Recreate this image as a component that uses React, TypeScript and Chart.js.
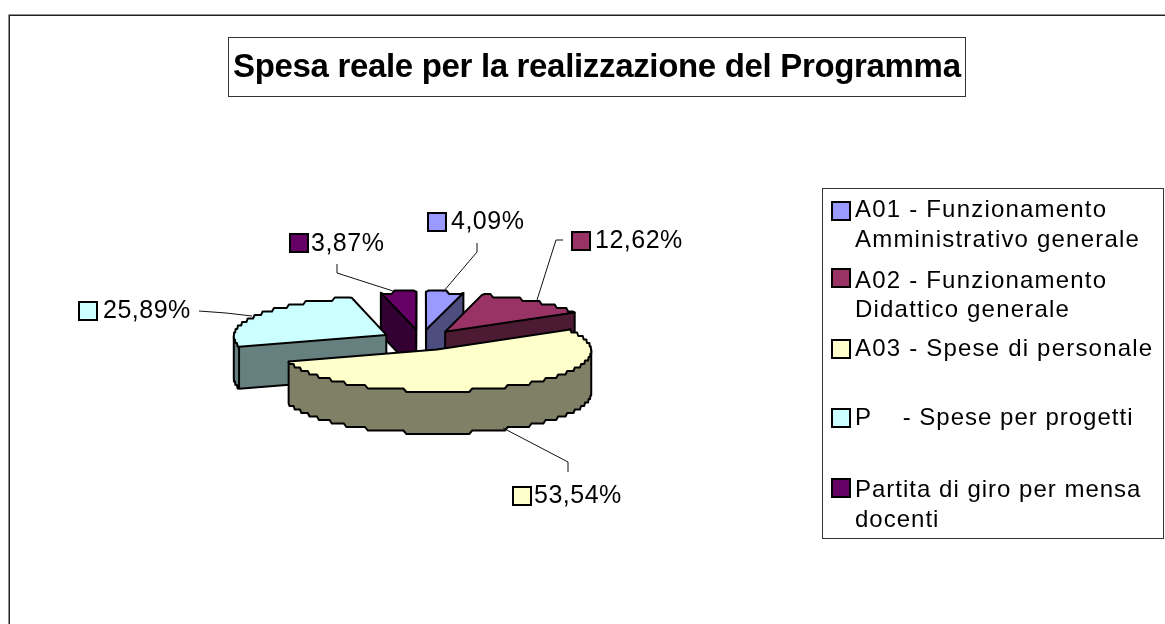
import React, { useEffect, useRef } from "react";
import { Chart, registerables } from "chart.js";

Chart.register(...registerables);

const categories = [
  ["A01 - Funzionamento", "Amministrativo generale"],
  ["A02 - Funzionamento", "Didattico generale"],
  ["A03 - Spese di personale"],
  ["P    - Spese per progetti"],
  ["Partita di giro per mensa", "docenti"],
];
const values = [4.09, 12.62, 53.54, 25.89, 3.87];
const topColors = ["#9999FF", "#993366", "#FFFFCC", "#CCFFFF", "#660066"];
const sideColors = ["#4D4D80", "#4D1A33", "#808066", "#668080", "#330033"];
const titleText = "Spesa reale per la realizzazione del Programma";

// Layout of annotations (not data)
const SQUASH = 0.26;
const DEPTH = 42;
const PERSPECTIVE = 0.03;
const paintOrder = [0, 4, 1, 3, 2];
const valueLabelBoxes = [
  { sx: 427, sy: 212, tx: 451, ty: 229, lead: [[477, 243], [477, 252], [443, 292]] },
  { sx: 571, sy: 231, tx: 595, ty: 248, lead: [[563, 240], [556, 240], [537, 300]] },
  { sx: 512, sy: 486, tx: 534, ty: 503, lead: [[503, 428], [568, 462], [568, 472]] },
  { sx: 78, sy: 301, tx: 103, ty: 318, lead: [[199, 311], [226, 313], [252, 316]] },
  { sx: 289, sy: 233, tx: 311, ty: 251, lead: [[337, 264], [337, 273], [393, 291]] },
];
const legendRows = [
  { sy: 201, lines: [217, 247], spacing: "1.2px" },
  { sy: 268, lines: [288, 317], spacing: "1.2px" },
  { sy: 339, lines: [356], spacing: "1.2px" },
  { sy: 408, lines: [425], spacing: "1px" },
  { sy: 478, lines: [497, 527], spacing: "1px" },
];

const pseudo3d = {
  id: "pseudo3d",
  beforeDatasetDraw(chart: any) {
    const ctx = chart.ctx as CanvasRenderingContext2D;
    const arcs = chart.getDatasetMeta(0).data;
    ctx.save();
    ctx.lineJoin = "round";
    ctx.lineCap = "round";
    for (const i of paintOrder) {
      const arc = arcs[i];
      const p = arc.getProps(["x", "y", "startAngle", "endAngle", "outerRadius"], true);
      const off = (arc.options.offset || 0) / 4;
      const mid = (p.startAngle + p.endAngle) / 2;
      const ox = p.x + Math.cos(mid) * off;
      const oy = p.y + Math.sin(mid) * off * SQUASH;
      const project = (x: number, y: number) => {
        const s = 1 + (PERSPECTIVE * (y - p.y)) / (p.outerRadius * SQUASH);
        return [p.x + (x - p.x) * s, p.y + (y - p.y) * s];
      };
      const pts: number[][] = [project(ox, oy)];
      const n = Math.max(3, Math.ceil((p.endAngle - p.startAngle) / 0.02));
      for (let k = 0; k <= n; k++) {
        const a = p.startAngle + ((p.endAngle - p.startAngle) * k) / n;
        const q = project(ox + Math.cos(a) * p.outerRadius, oy + Math.sin(a) * p.outerRadius * SQUASH);
        if (k > 0 && k < n) q[1] = Math.round(q[1] / 3.5) * 3.5;
        pts.push(q);
      }
      const m = pts.length;
      const front = (j: number) => pts[(j + 1) % m][0] - pts[j][0] < 0;
      // side walls, as one path so that no seams show
      ctx.fillStyle = sideColors[i];
      ctx.beginPath();
      for (let j = 0; j < m; j++) {
        if (!front(j)) continue;
        const a = pts[j];
        const b = pts[(j + 1) % m];
        ctx.moveTo(a[0], a[1]);
        ctx.lineTo(b[0], b[1]);
        ctx.lineTo(b[0], b[1] + DEPTH);
        ctx.lineTo(a[0], a[1] + DEPTH);
        ctx.closePath();
      }
      ctx.fill("nonzero");
      ctx.strokeStyle = "#000";
      ctx.lineWidth = 2;
      ctx.beginPath();
      for (let j = 0; j < m; j++) {
        const a = pts[j];
        const b = pts[(j + 1) % m];
        if (front(j)) {
          ctx.moveTo(a[0], a[1] + DEPTH);
          ctx.lineTo(b[0], b[1] + DEPTH);
        }
        const inF = front((j - 1 + m) % m);
        const outF = front(j);
        const corner = j === 0 || j === 1 || j === m - 1;
        if ((inF || outF) && (inF !== outF || corner)) {
          ctx.moveTo(a[0], a[1]);
          ctx.lineTo(a[0], a[1] + DEPTH);
        }
      }
      ctx.stroke();
      ctx.beginPath();
      pts.forEach((q, j) => (j ? ctx.lineTo(q[0], q[1]) : ctx.moveTo(q[0], q[1])));
      ctx.closePath();
      ctx.fillStyle = topColors[i];
      ctx.fill();
      ctx.stroke();
    }
    ctx.restore();
    return false;
  },
};

function swatch(ctx: CanvasRenderingContext2D, x: number, y: number, color: string) {
  ctx.fillStyle = color;
  ctx.strokeStyle = "#000";
  ctx.lineWidth = 2;
  ctx.fillRect(x + 1, y + 1, 18, 18);
  ctx.strokeRect(x + 1, y + 1, 18, 18);
}

const annotations = {
  id: "annotations",
  afterDraw(chart: any) {
    const ctx = chart.ctx as any;
    ctx.save();
    // frame
    ctx.strokeStyle = "#222";
    ctx.lineWidth = 1.5;
    ctx.beginPath();
    ctx.moveTo(9.25, 624);
    ctx.lineTo(9.25, 15.25);
    ctx.lineTo(1165, 15.25);
    ctx.stroke();
    // title
    ctx.lineWidth = 1;
    ctx.strokeStyle = "#333";
    ctx.strokeRect(228.5, 37.5, 737, 59);
    ctx.fillStyle = "#000";
    ctx.font = "bold 33px 'Liberation Sans'";
    ctx.letterSpacing = "-0.33px";
    ctx.textBaseline = "alphabetic";
    ctx.textAlign = "left";
    ctx.fillText(titleText, 233, 77);
    // value labels
    ctx.font = "25px 'Liberation Sans'";
    ctx.letterSpacing = "0.5px";
    values.forEach((v, i) => {
      const b = valueLabelBoxes[i];
      ctx.strokeStyle = "#111";
      ctx.lineWidth = 1;
      ctx.beginPath();
      b.lead.forEach((q, j) => (j ? ctx.lineTo(q[0], q[1]) : ctx.moveTo(q[0], q[1])));
      ctx.stroke();
      swatch(ctx, b.sx, b.sy, topColors[i]);
      ctx.fillStyle = "#000";
      ctx.fillText(v.toFixed(2).replace(".", ",") + "%", b.tx, b.ty);
    });
    // legend
    ctx.strokeStyle = "#333";
    ctx.lineWidth = 1;
    ctx.strokeRect(822.5, 188.5, 341, 350);
    ctx.font = "24px 'Liberation Sans'";
    categories.forEach((lines, i) => {
      const r = legendRows[i];
      swatch(ctx, 831, r.sy, topColors[i]);
      ctx.fillStyle = "#000";
      ctx.letterSpacing = r.spacing;
      lines.forEach((t, j) => ctx.fillText(t, 855, r.lines[j]));
    });
    ctx.restore();
  },
};

export default function App() {
  const ref = useRef<HTMLCanvasElement>(null);
  useEffect(() => {
    const chart = new Chart(ref.current!, {
      type: "pie",
      data: {
        labels: categories.map((c) => c.join(" ")),
        datasets: [{ data: values, backgroundColor: topColors, borderColor: "#000", borderWidth: 2, offset: 160 }],
      },
      options: {
        responsive: false,
        animation: false,
        radius: 153,
        layout: { padding: { left: 0, right: 323, top: 56, bottom: 0 } },
        plugins: { legend: { display: false }, title: { display: false }, tooltip: { enabled: false } },
      } as any,
      plugins: [pseudo3d, annotations],
    });
    return () => chart.destroy();
  }, []);
  return (
    <canvas
      ref={ref}
      width={1165}
      height={624}
      style={{ position: "absolute", left: 0, top: 0, display: "block", background: "#fff" }}
    />
  );
}
